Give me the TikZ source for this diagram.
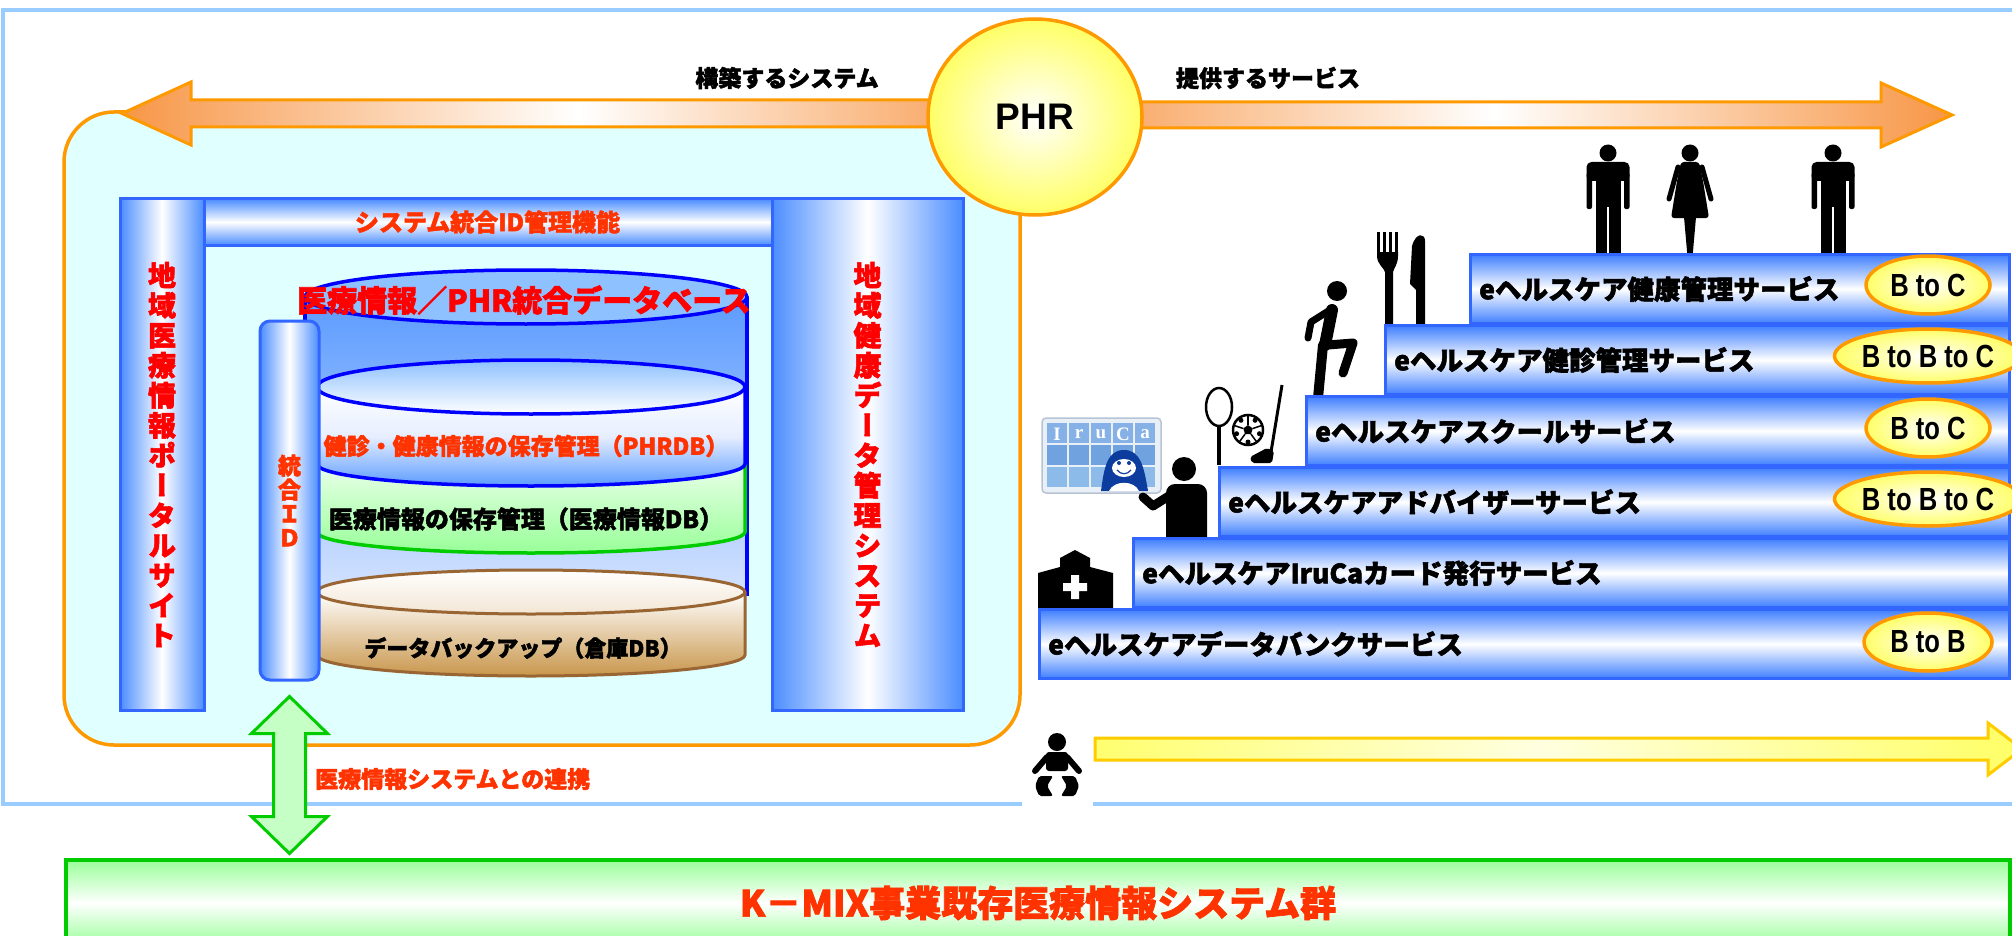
\documentclass[tikz,border=0pt]{standalone}
\usepackage{fontspec}
\setmainfont{Noto Sans CJK JP}[BoldFeatures={FakeBold=2}]
\newfontfamily\tatefont{Noto Sans CJK JP}[RawFeature=+vert,BoldFeatures={FakeBold=2}]
\newfontfamily\latinsans{Liberation Sans}
\newfontfamily\cardserif{Liberation Serif}
\usetikzlibrary{calc,positioning,shapes.geometric}
\definecolor{FrameBlue}{HTML}{99CCFF}
\definecolor{BoxOrange}{HTML}{FF9900}
\definecolor{BoxCyan}{HTML}{E0FFFF}
\definecolor{ArrowOrange}{HTML}{F79646}
\definecolor{BallYellow}{HTML}{FFFF66}
\definecolor{BarBorder}{HTML}{3366FF}
\definecolor{BarBlue}{HTML}{4B8DFF}
\definecolor{TitleRed}{HTML}{FF0000}
\definecolor{LabelRed}{HTML}{FF3300}
\definecolor{DbBlue}{HTML}{0000FF}
\definecolor{DbBody}{HTML}{5B9BFF}
\definecolor{DbPale}{HTML}{D6E4FF}
\definecolor{DbLid}{HTML}{8EC1FF}
\definecolor{DbMist}{HTML}{E6EEFF}
\definecolor{DbGreen}{HTML}{00CC00}
\definecolor{DbMint}{HTML}{99FF99}
\definecolor{DbBrown}{HTML}{996633}
\definecolor{DbTan}{HTML}{C8964B}
\definecolor{DbCream}{HTML}{F3E6D4}
\definecolor{StepBlue}{HTML}{3F7FFF}
\definecolor{LinkMint}{HTML}{C6FFC6}
\definecolor{LifeYellow}{HTML}{FFCC00}
\definecolor{LifePale}{HTML}{FFFFE0}
\definecolor{CardEdge}{HTML}{B8C4D4}
\definecolor{CardBack}{HTML}{E9EFF7}
\definecolor{CardTop}{HTML}{86B1E6}
\definecolor{CardMid}{HTML}{6FA2DF}
\definecolor{CardLow}{HTML}{8CBBEA}
\definecolor{PenguinBlue}{HTML}{0B3C9E}

\begin{document}
\begin{tikzpicture}[x=1pt,y=-1pt,
    pillar/.style={draw=BarBorder,line width=3pt,left color=BarBlue,right color=BarBlue,middle color=white,inner sep=0pt,align=center},
    beam/.style={draw=BarBorder,line width=3pt,top color=BarBlue,bottom color=BarBlue,middle color=white,inner sep=0pt},
    stepbar/.style={draw=BarBorder,line width=3pt,top color=StepBlue,bottom color=StepBlue,middle color=white,anchor=north west,minimum height=69pt,inner sep=0pt},
    svclabel/.style={anchor=west,inner sep=0pt,font=\bfseries\fontsize{26.5}{26.5}\selectfont},
    dblabel/.style={inner sep=0pt,font=\bfseries\fontsize{#1}{#1}\selectfont},
    bizoval/.style={ellipse,draw=BoxOrange,line width=3.5pt,inner color=white,outer color=BallYellow,inner sep=0pt,font=\latinsans\bfseries\fontsize{32}{32}\selectfont},
    bigarrow/.style={draw=BoxOrange,line width=3pt,left color=ArrowOrange,right color=ArrowOrange,middle color=white},
    lifearrow/.style={draw=LifeYellow,line width=3pt,left color=BallYellow,right color=BallYellow,middle color=LifePale},
    linkarrow/.style={draw=DbGreen,line width=3pt,fill=LinkMint},
    man/.pic={
      \fill (0,-100) circle[radius=8.5pt];
      \fill[rounded corners=5pt] (-21.5,-91) rectangle (21.5,-72);
      \fill[rounded corners=2pt] (-21.5,-80) rectangle (-16,-44);
      \fill[rounded corners=2pt] (16,-80) rectangle (21.5,-44);
      \fill (-12.5,-86) rectangle (12.5,-46);
      \fill (-12.5,-50) rectangle (-1.2,4);
      \fill (1.2,-50) rectangle (12.5,4);
    },
    woman/.pic={
      \fill (0,-100) circle[radius=8.5pt];
      \fill[rounded corners=3pt] (-9,-91) -- (9,-91) -- (13,-72) -- (19,-35) -- (-19,-35) -- (-13,-72) -- cycle;
      \draw[line width=5pt,line cap=round] (-12,-86) -- (-21,-54) (12,-86) -- (21,-54);
      \fill (-6,-36) -- (6,-36) -- (2.5,4) -- (-2.5,4) -- cycle;
    }]
  \path[use as bounding box,fill=white] (0,0) rectangle (2012,936);
  % outer frame and the system area
  \draw[FrameBlue,line width=4pt] (3,10) rectangle (2040,804);
  \draw[BoxOrange,line width=3.5pt,fill=BoxCyan,rounded corners=50pt] (64,112) rectangle (1020,745);

  % PHR with the two directions
  \coordinate (phrmid) at (1035,117);
  \coordinate (buildtip) at (122,113.5);
  \coordinate (servetip) at (1952,115);
  \draw[bigarrow] (buildtip) -- ++(69,-31.5) -- ++(0,18) -- ++(844,0) -- ++(0,27) -- ++(-844,0) -- ++(0,18) -- cycle;
  \draw[bigarrow] (servetip) -- ++(-71,-32) -- ++(0,19) -- ++(-846,0) -- ++(0,26) -- ++(846,0) -- ++(0,19) -- cycle;
  \node[ellipse,draw=BoxOrange,line width=3.5pt,inner color=white,outer color=BallYellow,
        minimum width=214pt,minimum height=196pt,inner sep=0pt,
        font=\latinsans\bfseries\fontsize{37}{37}\selectfont] (phr) at (phrmid) {PHR};
  \node[dblabel=23] (built) at (787,78) {構築するシステム};
  \node[dblabel=23] (offered) at (1268,78) {提供するサービス};

  % portal, ID management and health data system
  \node[beam,minimum width=569pt,minimum height=46pt,text=LabelRed,
        font=\bfseries\fontsize{24}{24}\selectfont] (idbeam) at (487.5,222) {システム統合ID管理機能};
  \node[pillar,minimum width=84pt,minimum height=511pt,text=TitleRed,
        font=\tatefont\bfseries\fontsize{28}{30}\selectfont] (portal) at (162,454.5)
        {地\\域\\医\\療\\情\\報\\ポ\\ー\\タ\\ル\\サ\\イ\\ト};
  \node[pillar,minimum width=191pt,minimum height=511pt,text=TitleRed,
        font=\tatefont\bfseries\fontsize{28}{30}\selectfont] (healthdb) at (867.5,454.5)
        {地\\域\\健\\康\\デ\\ー\\タ\\管\\理\\シ\\ス\\テ\\ム};

  % integrated database: outer drum, then the three stores
  \shade[top color=DbBody,bottom color=DbPale] (305,297) rectangle (747,600);
  \draw[DbBlue,line width=3.5pt] (305,297) -- (305,596) (747,297) -- (747,596);
  \draw[DbBlue,line width=3.5pt,fill=DbLid] (526,297) ellipse[x radius=221pt,y radius=27pt];
  \draw[DbGreen,line width=3.5pt,top color=white,bottom color=DbMint] (317,440) -- (317,532)
    arc[start angle=180,end angle=360,x radius=214pt,y radius=21pt] -- (745,440);
  \node[dblabel=24] (medstore) at (526,519) {医療情報の保存管理（医療情報DB）};
  \draw[DbBlue,line width=3.5pt,top color=white,bottom color=DbBody,middle color=DbMist] (317,387) -- (317,464)
    arc[start angle=180,end angle=360,x radius=214pt,y radius=22pt] -- (745,387);
  \draw[DbBlue,line width=3.5pt,top color=DbLid,bottom color=white] (531,387) ellipse[x radius=214pt,y radius=27pt];
  \node[dblabel=23,text=LabelRed] (phrstore) at (526,446) {健診・健康情報の保存管理（PHRDB）};
  \draw[DbBrown,line width=3pt,top color=white,bottom color=DbTan] (317,592) -- (317,655)
    arc[start angle=180,end angle=360,x radius=214pt,y radius=21pt] -- (745,592);
  \draw[DbBrown,line width=3pt,top color=white,bottom color=DbCream] (531,592) ellipse[x radius=214pt,y radius=22pt];
  \node[dblabel=22] (backup) at (523,648) {データバックアップ（倉庫DB）};

  \node[pillar,minimum width=59pt,minimum height=359pt,rounded corners=10pt,text=LabelRed,
        font=\bfseries\fontsize{23}{24}\selectfont] (idbar) at (289.5,500.5) {統\\合\\Ｉ\\Ｄ};
  \node[dblabel=30,text=TitleRed] (dbtitle) at (524,300) {医療情報／PHR統合データベース};

  % link down to the existing systems
  \node[draw=DbGreen,line width=4pt,top color=DbMint,bottom color=DbMint,middle color=white,
        anchor=north west,minimum width=1944pt,minimum height=86pt,inner sep=0pt,text=LabelRed,
        font=\bfseries\fontsize{36}{36}\selectfont] (kmix) at (64,858) {K－MIX事業既存医療情報システム群};
  \path (idbar.south) ++(0,15) coordinate (linktop);
  \draw[linkarrow] (linktop) -- ++(38,37) -- ++(-22,0) -- ++(0,83) -- ++(22,0) -- ++(-38,37)
    -- ++(-38,-37) -- ++(22,0) -- ++(0,-83) -- ++(-22,0) -- cycle;
  \node[dblabel=23,anchor=west,text=LabelRed] (linklabel) at (315,779) {医療情報システムとの連携};

  % figures on the steps
  \pic at (1608,253) {man};
  \pic at (1690,253) {woman};
  \pic at (1833,253) {man};
  \foreach \tx in {1377,1383,1389,1395} \fill (\tx,232) rectangle ++(3,22);
  \fill (1377,252) -- (1398,252) -- (1398,256) .. controls (1398,264) and (1394,268) .. (1393,272)
    -- (1393,326) -- (1385,326) -- (1385,272) .. controls (1384,268) and (1377,264) .. (1377,256) -- cycle;
  \fill (1425,326) -- (1425,241) .. controls (1425,233) and (1416,232) .. (1412,246)
    -- (1410,284) -- (1416,290) -- (1416,326) -- cycle;
  \fill (1337,291) circle[radius=10pt];
  \begin{scope}[line cap=round,line join=round]
    \draw[line width=12pt] (1332,310) -- (1325,345);
    \draw[line width=10pt] (1323,345) -- (1318,398);
    \draw[line width=9pt] (1328,345) -- (1353,343) -- (1343,373);
    \draw[line width=7pt] (1330,310) -- (1311,322) -- (1308,338);
  \end{scope}
  \draw[line width=2.5pt] (1219,407) ellipse[x radius=13pt,y radius=19pt];
  \fill (1217,425) rectangle (1221,465);
  \draw[line width=2.5pt] (1248,430) circle[radius=15pt];
  \fill (1248,430) +(90:5pt) -- +(162:5pt) -- +(234:5pt) -- +(306:5pt) -- +(18:5pt) -- cycle;
  \foreach \ang in {90,162,234,306,18}
    \draw[line width=1.5pt] (1248,430) ++(\ang:5pt) -- ++(\ang:9pt);
  \foreach \ang in {54,126,198,270,342}
    \fill (1248,430) ++(\ang:12pt) circle[radius=2.5pt];
  \draw[line width=3pt] (1282,385) -- (1271,452);
  \fill[rounded corners=2pt] (1267,448) -- (1274,451) -- (1272,463) -- (1252,463) -- (1250,457) -- cycle;

  % advisor with the IruCa card
  \draw[CardEdge,line width=1.5pt,fill=CardBack,rounded corners=4pt] (1042,418) rectangle (1161,493);
  \foreach \col in {0,...,4}
    \foreach \row/\tone in {0/CardTop,1/CardMid,2/CardLow}
      \fill[\tone] (1047+22*\col,423+22*\row) rectangle ++(20,20);
  \foreach \ch [count=\k from 0] in {I,r,u,C,a}
    \node[font=\cardserif\bfseries\fontsize{19}{19}\selectfont,text=white] (card-\k) at (1057+22*\k,434) {\ch};
  \fill[PenguinBlue] (1101,491) .. controls (1104,468) and (1107,450) .. (1124,450)
    .. controls (1141,450) and (1144,468) .. (1148,491) -- cycle;
  \fill[white] (1124,468) ellipse[x radius=12pt,y radius=9pt];
  \fill[white] (1109,491) .. controls (1114,480) and (1134,480) .. (1139,491) -- cycle;
  \fill[PenguinBlue] (1119,463) circle[radius=2pt] (1129,463) circle[radius=2pt];
  \draw[PenguinBlue,line width=1.2pt] (1117,470) .. controls (1121,475) and (1127,475) .. (1131,470);
  \fill (1184,469) circle[radius=12pt];
  \fill[rounded corners=9pt] (1166,548) rectangle (1207,484);
  \draw[line width=9pt,line cap=round,line join=round] (1172,494) -- (1153,506) -- (1143,497);

  % hospital
  \fill (1038,610) -- (1038,573) -- (1060,567) -- (1060,558) -- (1075,550) -- (1090,558)
    -- (1090,567) -- (1113,573) -- (1113,610) -- cycle;
  \fill[white] (1071,575) rectangle (1079,599) (1063,583) rectangle (1087,591);

  % service steps
  \foreach \ty/\lx/\svc in {608/1038/eヘルスケアデータバンクサービス,
                            537/1132/eヘルスケアIruCaカード発行サービス,
                            466/1218/eヘルスケアアドバイザーサービス,
                            395/1305/eヘルスケアスクールサービス,
                            324/1384/eヘルスケア健診管理サービス,
                            253/1469/eヘルスケア健康管理サービス}{
    \pgfmathsetmacro\wide{2008-\lx}
    \node[stepbar,minimum width=\wide pt] (step-\ty) at (\lx,\ty) {};
    \node[svclabel] (svc-\ty) at (\lx+10,\ty+36) {\svc};
  }
  \foreach \yc/\ow/\oh/\deal in {285/124/58/B to C,356/160/54/B to B to C,428/124/58/B to C,
                                 499/160/54/B to B to C,642/128/58/B to B}
    \node[bizoval,minimum width=\ow pt,minimum height=\oh pt] (deal-\yc) at (1928,\yc) {\scalebox{0.8}[1]{\deal}};

  % baby and the life-long arrow
  \fill[white] (1022,725) rectangle (1093,808);
  \coordinate (baby) at (1057,770);
  \coordinate (lifetip) at (2022,749);
  \fill (1057,742) circle[radius=9pt];
  \fill[rounded corners=3pt] (1046,752) rectangle (1068,771);
  \draw[line width=6pt,line cap=round] (1047,757) -- (1035,771) (1067,757) -- (1079,771);
  \fill[rounded corners=2pt] (1039,776) -- (1053,776) -- (1047,786) -- (1053,796) -- (1039,796) -- (1035,786) -- cycle;
  \fill[rounded corners=2pt] (1075,776) -- (1061,776) -- (1067,786) -- (1061,796) -- (1075,796) -- (1079,786) -- cycle;
  \draw[lifearrow] (baby) ++(38,-32) -- ++(893,0) -- ++(0,-15) -- (lifetip) -- ++(-34,26) -- ++(0,-15) -- ++(-893,0) -- cycle;
\end{tikzpicture}
\end{document}
